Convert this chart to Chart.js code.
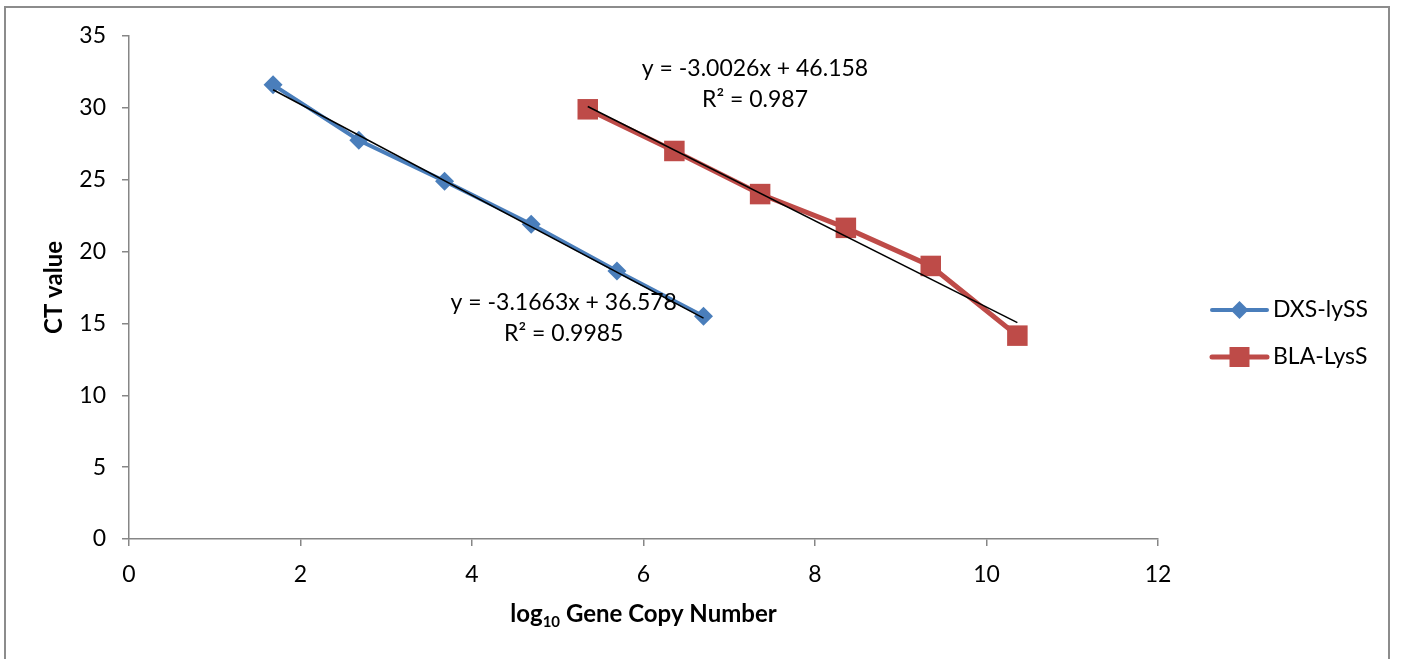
<!DOCTYPE html>
<html>
<head>
<meta charset="utf-8">
<script src="https://cdn.jsdelivr.net/npm/chart.js@4.4.1/dist/chart.umd.min.js"></script>
<style>
  body { margin: 0; background: #fff; }
  #wrap { position: relative; width: 1402px; height: 659px; overflow: hidden; }
  #frame { position: absolute; left: 4px; top: 6px; width: 1386px; height: 700px; border: 2px solid #8c8c8c; box-sizing: border-box; pointer-events: none; }
  canvas { position: absolute; left: 0; top: 0; }
</style>
</head>
<body>
<div id="wrap">
  <canvas id="stdCurve" width="1402" height="659"></canvas>
  <div id="frame"></div>
</div>
<script>
// log10 copy number vs CT value
const dxsLogCopies = [1.68, 2.68, 3.68, 4.69, 5.69, 6.70];
const dxsCt = [31.6, 27.75, 24.9, 21.9, 18.65, 15.5];
const blaLogCopies = [5.35, 6.36, 7.36, 8.36, 9.35, 10.36];
const blaCt = [29.9, 27.0, 24.0, 21.65, 19.0, 14.15];

// trendline equations shown on the chart
const dxsFit = { slope: -3.1663, intercept: 36.578, r2: '0.9985' };
const blaFit = { slope: -3.0026, intercept: 46.158, r2: '0.987' };

const seriesNames = ['DXS-lySS', 'BLA-LysS'];
const xTicks = [0, 2, 4, 6, 8, 10, 12];
const yTicks = [0, 5, 10, 15, 20, 25, 30, 35];

const BLUE = '#4a7ebb';
const RED = '#be4b48';
const AXIS = '#868686';
const FONT = 'Lato, "Open Sans", sans-serif';
const TXT = 23;

function toPoints(xs, ys) {
    return xs.map((x, i) => ({ x: x, y: ys[i] }));
}

function fitLine(fit, xs) {
    const lo = Math.min(...xs), hi = Math.max(...xs);
    return [
        { x: lo, y: fit.slope * lo + fit.intercept },
        { x: hi, y: fit.slope * hi + fit.intercept }
    ];
}

function eqText(fit) {
    const s = fit.slope < 0 ? '-' + Math.abs(fit.slope).toFixed(4) : fit.slope.toFixed(4);
    return 'y = ' + s + 'x + ' + fit.intercept.toFixed(3);
}

// label anchors in data units
const fitLabels = [
    { fit: blaFit, x: 7.30, y: 32.75 },
    { fit: dxsFit, x: 5.07, y: 16.45 }
];

const extras = {
    id: 'extras',
    afterDraw(chart) {
        const ctx = chart.ctx;
        const area = chart.chartArea;
        const xs = chart.scales.x, ys = chart.scales.y;
        ctx.save();
        ctx.fillStyle = '#000';
        ctx.textBaseline = 'middle';

        // trendline equations
        ctx.font = TXT + 'px ' + FONT;
        ctx.textAlign = 'center';
        fitLabels.forEach(l => {
            const px = xs.getPixelForValue(l.x);
            const py = ys.getPixelForValue(l.y);
            ctx.fillText(eqText(l.fit), px, py);
            ctx.fillText('R² = ' + l.fit.r2, px, py + 31);
        });

        // x axis title with subscript
        const cx = (area.left + area.right) / 2;
        const ty = 614;
        const bold = 'bold 24px ' + FONT;
        const sub = 'bold 15px ' + FONT;
        ctx.font = bold;
        const w1 = ctx.measureText('log').width;
        const w3 = ctx.measureText(' Gene Copy Number').width;
        ctx.font = sub;
        const w2 = ctx.measureText('10').width;
        const x0 = cx - (w1 + w2 + w3) / 2;
        ctx.textAlign = 'left';
        ctx.font = bold;
        ctx.fillText('log', x0, ty);
        ctx.font = sub;
        ctx.fillText('10', x0 + w1, ty + 8);
        ctx.font = bold;
        ctx.fillText(' Gene Copy Number', x0 + w1 + w2, ty);

        // y axis title
        ctx.save();
        ctx.translate(54, (area.top + area.bottom) / 2);
        ctx.rotate(-Math.PI / 2);
        ctx.textAlign = 'center';
        ctx.font = bold;
        ctx.fillText('CT value', 0, 0);
        ctx.restore();

        // legend: line + marker
        const lx = area.right + 54;
        const colors = [BLUE, RED];
        const rowY = [310, 357];
        seriesNames.forEach((name, i) => {
            const y = rowY[i];
            ctx.strokeStyle = colors[i];
            ctx.lineWidth = i === 0 ? 4 : 5;
            ctx.lineCap = 'round';
            ctx.beginPath();
            ctx.moveTo(lx, y);
            ctx.lineTo(lx + 55, y);
            ctx.stroke();
            ctx.fillStyle = colors[i];
            ctx.beginPath();
            if (i === 0) {
                ctx.moveTo(lx + 27.5, y - 9);
                ctx.lineTo(lx + 36.5, y);
                ctx.lineTo(lx + 27.5, y + 9);
                ctx.lineTo(lx + 18.5, y);
                ctx.closePath();
            } else {
                ctx.rect(lx + 17.5, y - 10, 20, 20);
            }
            ctx.fill();
            ctx.fillStyle = '#000';
            ctx.font = TXT + 'px ' + FONT;
            ctx.textAlign = 'left';
            ctx.fillText(name, lx + 61, y);
        });
        ctx.restore();
    }
};

const axisCommon = {
    type: 'linear',
    grid: { drawOnChartArea: false, drawTicks: true, tickLength: 7, color: AXIS, lineWidth: 1.5 },
    border: { color: AXIS, width: 1.5 }
};

new Chart(document.getElementById('stdCurve'), {
    type: 'scatter',
    data: {
        datasets: [
            {
                label: 'DXS fit',
                data: fitLine(dxsFit, dxsLogCopies),
                showLine: true,
                borderColor: '#000',
                borderWidth: 1.5,
                pointRadius: 0,
                order: 0
            },
            {
                label: 'BLA fit',
                data: fitLine(blaFit, blaLogCopies),
                showLine: true,
                borderColor: '#000',
                borderWidth: 1.5,
                pointRadius: 0,
                order: 0
            },
            {
                label: seriesNames[0],
                data: toPoints(dxsLogCopies, dxsCt),
                showLine: true,
                borderColor: BLUE,
                backgroundColor: BLUE,
                borderWidth: 4,
                pointStyle: 'rectRot',
                pointRadius: 9.5,
                pointBorderWidth: 0,
                order: 1
            },
            {
                label: seriesNames[1],
                data: toPoints(blaLogCopies, blaCt),
                showLine: true,
                borderColor: RED,
                backgroundColor: RED,
                borderWidth: 5,
                pointStyle: 'rect',
                pointRadius: 14.5,
                pointBorderWidth: 0,
                order: 1
            }
        ]
    },
    options: {
        responsive: false,
        animation: false,
        clip: false,
        layout: { padding: { top: 36, right: 244, left: 0, bottom: 0 } },
        plugins: { legend: { display: false }, tooltip: { enabled: false } },
        scales: {
            x: Object.assign({}, axisCommon, {
                min: xTicks[0],
                max: xTicks[xTicks.length - 1],
                afterBuildTicks: s => { s.ticks = xTicks.map(v => ({ value: v })); },
                ticks: { color: '#000', font: { family: FONT, size: TXT }, padding: 15 },
                afterFit: s => { s.height = 120; }
            }),
            y: Object.assign({}, axisCommon, {
                min: yTicks[0],
                max: yTicks[yTicks.length - 1],
                afterBuildTicks: s => { s.ticks = yTicks.map(v => ({ value: v })); },
                ticks: { color: '#000', font: { family: FONT, size: TXT }, padding: 16 },
                afterFit: s => { s.width = 129; }
            })
        }
    },
    plugins: [extras]
});
</script>
</body>
</html>
